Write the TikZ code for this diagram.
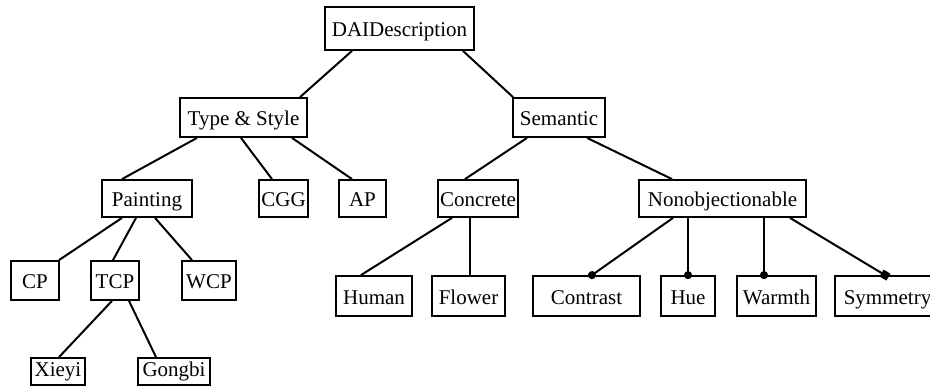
\documentclass[tikz,border=0pt]{standalone}
\usepackage{fontspec}
\setmainfont{Liberation Serif}
\usetikzlibrary{arrows.meta}
\tikzset{
  box/.style={draw, line width=1.8pt, inner sep=0pt, minimum height=#1, text height=17pt, text depth=0pt,
    font=\fontsize{21}{25}\selectfont},
  box/.default=39pt,
  smallbox/.style={box=27pt, text height=11pt},
  link/.style={line width=2pt},
  dotlink/.style={link, -{Circle[length=8pt,width=8pt]}, shorten >=-4pt},
  sqlink/.style={link, -{Square[length=8pt,width=8pt]}, shorten >=-4pt},
}
\begin{document}
\begin{tikzpicture}[x=1pt,y=-1pt]
\useasboundingbox[fill=white] (0,0) rectangle (930,390);
% level 0
\node[box=43pt, minimum width=149pt] (dai) at (399.5,28.5) {DAIDescription};
% level 1
\node[box, minimum width=127pt] (ts) at (243.5,117.5) {Type \& Style};
\node[box, minimum width=92pt] (sem) at (559,117.5) {Semantic};
% level 2
\node[box=37pt, minimum width=90pt] (paint) at (147,198.5) {Painting};
\node[box=37pt, minimum width=49pt] (cgg) at (283.5,198.5) {CGG};
\node[box=37pt, minimum width=47pt] (ap) at (362.5,198.5) {AP};
\node[box=37pt, minimum width=80pt] (conc) at (478,198.5) {Concrete};
\node[box=37pt, minimum width=167pt] (nonobj) at (722.5,198.5) {Nonobjectionable};
% level 3
\node[box, minimum width=48pt] (cp) at (35,280.5) {CP};
\node[box, minimum width=48pt] (tcp) at (115,280.5) {TCP};
\node[box, minimum width=54pt] (wcp) at (209,280.5) {WCP};
\node[box=40pt, minimum width=76pt] (human) at (374,296) {Human};
\node[box=40pt, minimum width=73pt] (flower) at (468.5,296) {Flower};
\node[box=40pt, minimum width=107pt] (contrast) at (586.5,296) {Contrast};
\node[box=40pt, minimum width=54pt] (hue) at (688,296) {Hue};
\node[box=40pt, minimum width=79pt] (warmth) at (776.5,296) {Warmth};
\node[box=40pt, minimum width=105pt] (sym) at (887.5,296) {Symmetry};
% level 4
\node[smallbox, minimum width=54pt] (xieyi) at (58,371.5) {Xieyi};
\node[smallbox, minimum width=72pt] (gongbi) at (174,371.5) {Gongbi};
% connectors
\draw[link] ([xshift=-47.5pt]dai.south) -- ([xshift=56.5pt]ts.north);
\draw[link] ([xshift=63.5pt]dai.south) -- ([xshift=-46pt]sem.north);
\draw[link] ([xshift=-46.5pt]ts.south) -- ([xshift=-25pt]paint.north);
\draw[link] ([xshift=-2.5pt]ts.south) -- ([xshift=-11.5pt]cgg.north);
\draw[link] ([xshift=48.5pt]ts.south) -- ([xshift=-10.5pt]ap.north);
\draw[link] ([xshift=-32pt]sem.south) -- ([xshift=-13pt]conc.north);
\draw[link] ([xshift=28pt]sem.south) -- ([xshift=-50.5pt]nonobj.north);
\draw[link] ([xshift=-25pt]paint.south) -- ([xshift=24pt]cp.north);
\draw[link] ([xshift=-11pt]paint.south) -- ([xshift=-2pt]tcp.north);
\draw[link] ([xshift=8pt]paint.south) -- ([xshift=-17pt]wcp.north);
\draw[link] ([xshift=-26pt]conc.south) -- ([xshift=-13pt]human.north);
\draw[link] ([xshift=-8pt]conc.south) -- ([xshift=1.5pt]flower.north);
\draw[link] ([xshift=-3pt]tcp.south) -- ([xshift=1pt]xieyi.north);
\draw[link] ([xshift=14pt]tcp.south) -- ([xshift=-18pt]gongbi.north);
\draw[dotlink] ([xshift=-49.5pt]nonobj.south) -- ([xshift=5.5pt]contrast.north);
\draw[dotlink] ([xshift=-34.5pt]nonobj.south) -- (hue.north);
\draw[dotlink] ([xshift=41.5pt]nonobj.south) -- ([xshift=-12.5pt]warmth.north);
\draw[sqlink] ([xshift=67.5pt]nonobj.south) -- ([xshift=-2.5pt]sym.north);
\end{tikzpicture}
\end{document}
